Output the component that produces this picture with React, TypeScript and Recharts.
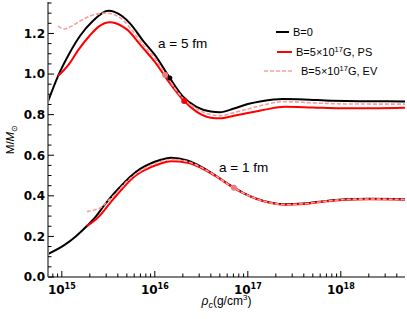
import React from "react";
import { ComposedChart, Line, Scatter, XAxis, YAxis } from "recharts";

// upper branch, a = 5 fm
const rhoB0A5 = [7.1e14, 9.1e14, 1.2e15, 1.58e15, 2.14e15, 3.16e15, 4.47e15, 5.4e15, 7.6e15, 1e16, 1.45e16, 2e16, 2.8e16, 4e16, 5e16, 7.1e16, 1e17, 1.4e17, 2.4e17, 4e17, 8e17, 1.6e18, 3.16e18, 4.9e18];
const massB0A5 = [0.865, 0.99, 1.1, 1.19, 1.26, 1.312, 1.285, 1.25, 1.16, 1.094, 0.98, 0.89, 0.838, 0.815, 0.812, 0.83, 0.852, 0.866, 0.877, 0.875, 0.868, 0.866, 0.866, 0.865];

const rhoPsA5 = [9.1e14, 1.2e15, 1.5e15, 2e15, 2.51e15, 3.3e15, 4.47e15, 5e15, 7.1e15, 1e16, 1.45e16, 2.07e16, 2.8e16, 4e16, 5e16, 7.1e16, 1e17, 1.26e17, 1.58e17, 2.5e17, 5e17, 1e18, 2.5e18, 4.9e18];
const massPsA5 = [0.99, 1.05, 1.118, 1.19, 1.235, 1.255, 1.235, 1.22, 1.14, 1.06, 0.955, 0.867, 0.815, 0.785, 0.782, 0.795, 0.808, 0.817, 0.826, 0.839, 0.835, 0.831, 0.832, 0.834];

const rhoEvA5 = [9.1e14, 1.07e15, 1.26e15, 1.58e15, 2e15, 3e15, 4e15, 5.6e15, 7.6e15, 1e16, 1.29e16, 2e16, 2.8e16, 4e16, 5e16, 7.1e16, 1e17, 1.26e17, 2.5e17, 5e17, 1e18, 2.5e18, 4.9e18];
const massEvA5 = [1.236, 1.222, 1.235, 1.262, 1.285, 1.3, 1.285, 1.22, 1.14, 1.078, 1.0, 0.882, 0.83, 0.8, 0.795, 0.81, 0.828, 0.84, 0.864, 0.858, 0.853, 0.852, 0.852];

// lower branch, a = 1 fm
const rhoB0A1 = [7.1e14, 1.07e15, 1.41e15, 1.86e15, 2.34e15, 2.88e15, 3.7e15, 4.8e15, 5.4e15, 7.1e15, 8.9e15, 1.12e16, 1.5e16, 2.24e16, 3.16e16, 4.5e16, 6.3e16, 8.9e16, 1.26e17, 1.78e17, 2.5e17, 4e17, 7e17, 1.12e18, 2e18, 4.9e18];
const massB0A1 = [0.113, 0.158, 0.2, 0.251, 0.3, 0.355, 0.415, 0.47, 0.493, 0.535, 0.558, 0.575, 0.588, 0.574, 0.543, 0.5, 0.455, 0.415, 0.385, 0.366, 0.358, 0.362, 0.375, 0.383, 0.385, 0.383];

const rhoPsA1 = [1.86e15, 2.51e15, 3.39e15, 4.47e15, 6e15, 7.9e15, 1.12e16, 1.5e16, 2.24e16, 3.16e16, 4.5e16, 6.3e16, 8.9e16, 1.26e17, 1.78e17, 2.5e17, 4e17, 7e17, 1.12e18, 2e18, 4.9e18];
const massPsA1 = [0.251, 0.298, 0.371, 0.435, 0.494, 0.528, 0.557, 0.57, 0.563, 0.537, 0.497, 0.453, 0.413, 0.383, 0.364, 0.356, 0.36, 0.373, 0.381, 0.383, 0.381];

const rhoEvA1 = [1.86e15, 2.34e15, 2.7e15, 3e15, 3.7e15, 5e15, 7.1e15, 1e16, 1.5e16, 2.24e16, 3.16e16, 4.5e16, 6.3e16, 8.9e16, 1.26e17, 1.78e17, 2.5e17, 4e17, 7e17, 1.12e18, 2e18, 4.9e18];
const massEvA1 = [0.322, 0.333, 0.346, 0.366, 0.405, 0.47, 0.525, 0.558, 0.579, 0.569, 0.54, 0.499, 0.454, 0.414, 0.384, 0.365, 0.357, 0.361, 0.374, 0.382, 0.384, 0.382];

// marked points
const rhoDotBlack = [1.45e16];
const massDotBlack = [0.98];
const rhoDotRed = [2.07e16];
const massDotRed = [0.867];
const rhoDotPink = [1.29e16, 7.1e16];
const massDotPink = [0.995, 0.44];

const xMajor = [1e15, 1e16, 1e17, 1e18];
const xExp = ["15", "16", "17", "18"];
const xMinor = [8e14, 9e14, 2e15, 3e15, 4e15, 5e15, 6e15, 7e15, 8e15, 9e15, 2e16, 3e16, 4e16, 5e16, 6e16, 7e16, 8e16, 9e16, 2e17, 3e17, 4e17, 5e17, 6e17, 7e17, 8e17, 9e17, 2e18, 3e18, 4e18];
const yMajor = [0, 0.2, 0.4, 0.6, 0.8, 1.0, 1.2];
const yLabels = ["0.0", "0.2", "0.4", "0.6", "0.8", "1.0", "1.2"];
const yMinor = [0.05, 0.1, 0.15, 0.25, 0.3, 0.35, 0.45, 0.5, 0.55, 0.65, 0.7, 0.75, 0.85, 0.9, 0.95, 1.05, 1.1, 1.15, 1.25, 1.3, 1.35];

const zip = (rho: number[], m: number[]) => rho.map((r, i) => ({ rho: r, m: m[i] }));

const RED = "#ff0000";
const PINK = "#ff9a9a";
const FRAME = "#808080";
const tickFont = "'DejaVu Sans', Verdana, sans-serif";
const textFont = "'Liberation Sans', Arial, sans-serif";

function XTick(props: any) {
  const { x, y, payload, top } = props;
  const i = xMajor.indexOf(payload.value);
  const len = i >= 0 ? 6 : 3.5;
  const dir = top ? 1 : -1;
  return (
    <g>
      <line x1={x} x2={x} y1={y} y2={y + dir * len} stroke="#000" strokeWidth={1} />
      {!top && i >= 0 && (
        <text x={x} y={y + 17} textAnchor="middle" fontFamily={tickFont} fontWeight="bold" fontSize={12} fill="#000">
          10<tspan dy={-5} fontSize={8}>{xExp[i]}</tspan>
        </text>
      )}
    </g>
  );
}

function YTick(props: any) {
  const { x, y, payload, right } = props;
  const i = yMajor.findIndex((v) => Math.abs(v - payload.value) < 1e-9);
  const len = i >= 0 ? 6 : 3.5;
  const dir = right ? -1 : 1;
  return (
    <g>
      <line x1={x} x2={x + dir * len} y1={y} y2={y} stroke="#000" strokeWidth={1} />
      {!right && i >= 0 && (
        <text x={x - 3} y={y} dy="0.36em" textAnchor="end" fontFamily={tickFont} fontWeight="bold" fontSize={12} fill="#000">
          {yLabels[i]}
        </text>
      )}
    </g>
  );
}

function XTitle(props: any) {
  const { viewBox } = props;
  const cx = viewBox.x + viewBox.width / 2;
  return (
    <text x={cx} y={305} textAnchor="middle" fontFamily={textFont} fontSize={12} fill="#000">
      <tspan fontStyle="italic">ρ</tspan>
      <tspan fontStyle="italic" fontSize={9} dy={3}>c</tspan>
      <tspan dy={-3}>(g/cm</tspan>
      <tspan fontSize={8} dy={-5}>3</tspan>
      <tspan dy={5}>)</tspan>
    </text>
  );
}

function YTitle(props: any) {
  const { viewBox } = props;
  const cy = viewBox.y + viewBox.height / 2;
  return (
    <text x={14} y={cy} transform={`rotate(-90, 14, ${cy})`} textAnchor="middle" fontFamily={textFont} fontSize={11.5} fill="#000">
      M/<tspan fontStyle="italic">M</tspan>
      <tspan fontSize={8} dy={3}>⊙</tspan>
    </text>
  );
}

const dot = (fill: string, r: number) => (p: any) => <circle cx={p.cx} cy={p.cy} r={r} fill={fill} />;

export default function App() {
  return (
    <div style={{ position: "absolute", left: 0, top: 0, width: 407, height: 319, background: "#fff" }}>
      <ComposedChart width={407} height={319} margin={{ top: 2, right: 2, left: 0, bottom: 0 }}>
        <XAxis
          xAxisId="b"
          dataKey="rho"
          type="number"
          scale="log"
          domain={[7.1e14, 4.9e18]}
          allowDataOverflow
          ticks={[...xMajor, ...xMinor]}
          interval={0}
          tickSize={0}
          tickMargin={0}
          tickLine={false}
          tick={<XTick />}
          axisLine={{ stroke: FRAME, strokeWidth: 2 }}
          height={42}
          label={<XTitle />}
        />
        <XAxis
          xAxisId="t"
          orientation="top"
          dataKey="rho"
          type="number"
          scale="log"
          domain={[7.1e14, 4.9e18]}
          allowDataOverflow
          ticks={[...xMajor, ...xMinor]}
          interval={0}
          tickSize={0}
          tickMargin={0}
          tickLine={false}
          tick={<XTick top />}
          axisLine={{ stroke: FRAME, strokeWidth: 2 }}
          height={0}
        />
        <YAxis
          yAxisId="l"
          dataKey="m"
          type="number"
          domain={[0, 1.355]}
          allowDataOverflow
          ticks={[...yMajor, ...yMinor]}
          interval={0}
          tickSize={0}
          tickMargin={0}
          tickLine={false}
          tick={<YTick />}
          axisLine={{ stroke: FRAME, strokeWidth: 2 }}
          width={48}
          label={<YTitle />}
        />
        <YAxis
          yAxisId="r"
          orientation="right"
          dataKey="m"
          type="number"
          domain={[0, 1.355]}
          allowDataOverflow
          ticks={[...yMajor, ...yMinor]}
          interval={0}
          tickSize={0}
          tickMargin={0}
          tickLine={false}
          tick={<YTick right />}
          axisLine={{ stroke: FRAME, strokeWidth: 2 }}
          width={0}
        />
        <Line xAxisId="b" yAxisId="l" data={zip(rhoB0A5, massB0A5)} dataKey="m" type="monotone" stroke="#000" strokeWidth={2} dot={false} isAnimationActive={false} />
        <Line xAxisId="b" yAxisId="l" data={zip(rhoPsA5, massPsA5)} dataKey="m" type="monotone" stroke={RED} strokeWidth={2} dot={false} isAnimationActive={false} />
        <Line xAxisId="b" yAxisId="l" data={zip(rhoEvA5, massEvA5)} dataKey="m" type="monotone" stroke={PINK} strokeWidth={1.6} strokeDasharray="4 2" dot={false} isAnimationActive={false} />
        <Line xAxisId="b" yAxisId="l" data={zip(rhoB0A1, massB0A1)} dataKey="m" type="monotone" stroke="#000" strokeWidth={2} dot={false} isAnimationActive={false} />
        <Line xAxisId="b" yAxisId="l" data={zip(rhoPsA1, massPsA1)} dataKey="m" type="monotone" stroke={RED} strokeWidth={2} dot={false} isAnimationActive={false} />
        <Line xAxisId="b" yAxisId="l" data={zip(rhoEvA1, massEvA1)} dataKey="m" type="monotone" stroke={PINK} strokeWidth={1.6} strokeDasharray="4 2" dot={false} isAnimationActive={false} />
        <Scatter xAxisId="b" yAxisId="l" data={zip(rhoDotPink, massDotPink)} dataKey="m" shape={dot("#f07a7a", 3)} isAnimationActive={false} />
        <Scatter xAxisId="b" yAxisId="l" data={zip(rhoDotBlack, massDotBlack)} dataKey="m" shape={dot("#000", 2.5)} isAnimationActive={false} />
        <Scatter xAxisId="b" yAxisId="l" data={zip(rhoDotRed, massDotRed)} dataKey="m" shape={dot(RED, 3)} isAnimationActive={false} />
      </ComposedChart>
      <svg width={407} height={319} style={{ position: "absolute", left: 0, top: 0, pointerEvents: "none" }}>
        <g fontFamily={textFont} fill="#000">
          <text x={158} y={48} fontSize={13.5}>a = 5 fm</text>
          <text x={219} y={171.5} fontSize={13.5}>a = 1 fm</text>
          <line x1={276} x2={289} y1={32} y2={32} stroke="#000" strokeWidth={2} />
          <text x={293} y={36} fontSize={11}>B=0</text>
          <line x1={277} x2={292} y1={52} y2={52} stroke={RED} strokeWidth={2} />
          <text x={296} y={56} fontSize={11}>
            B=5×10<tspan fontSize={7.5} dy={-4}>17</tspan><tspan dy={4}>G, PS</tspan>
          </text>
          <line x1={264} x2={292} y1={71} y2={71} stroke={PINK} strokeWidth={1.6} strokeDasharray="4 2" />
          <text x={301} y={75} fontSize={11}>
            B=5×10<tspan fontSize={7.5} dy={-4}>17</tspan><tspan dy={4}>G, EV</tspan>
          </text>
        </g>
      </svg>
    </div>
  );
}
